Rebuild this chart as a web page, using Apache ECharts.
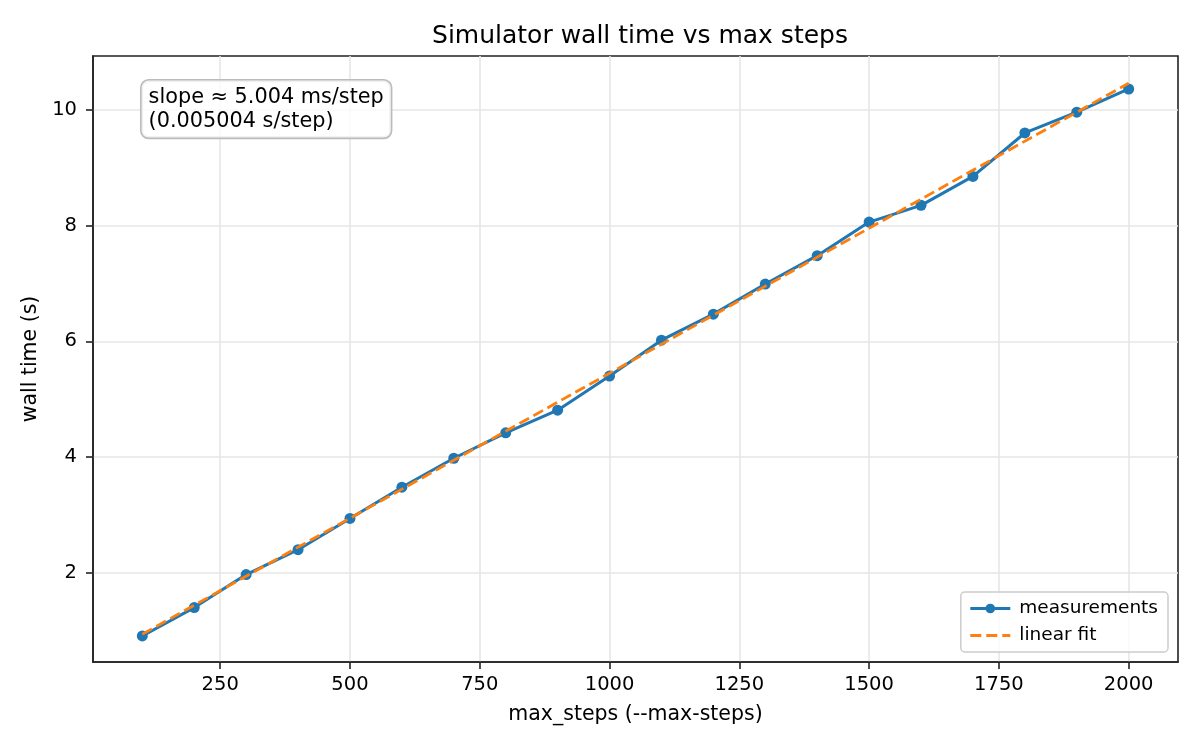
<!DOCTYPE html>
<html>
<head>
<meta charset="utf-8">
<title>Simulator wall time vs max steps</title>
<script src="https://cdn.jsdelivr.net/npm/echarts@6/dist/echarts.min.js"></script>
<style>
  html, body { margin: 0; padding: 0; background: #fff; }
  #chart { width: 1200px; height: 750px; }
</style>
</head>
<body>
<div id="chart"></div>
<script>
// measured runs
const maxSteps = [100, 200, 300, 400, 500, 600, 700, 800, 900, 1000,
                  1100, 1200, 1300, 1400, 1500, 1600, 1700, 1800, 1900, 2000];
const wallTime = [0.91, 1.40, 1.97, 2.40, 2.94, 3.48, 3.98, 4.42, 4.81, 5.40,
                  6.02, 6.47, 6.99, 7.48, 8.06, 8.35, 8.85, 9.60, 9.96, 10.36];

// linear fit, read at both ends
const fitSteps = [100, 2000];
const fitTime = [0.94, 10.46];

const xTicks = [250, 500, 750, 1000, 1250, 1500, 1750, 2000];
const yTicks = [2, 4, 6, 8, 10];

const FONT = 'DejaVu Sans';
const chart = echarts.init(document.getElementById('chart'));

const axisCommon = {
  axisLine: { show: true, lineStyle: { color: '#222', width: 1.6 } },
  axisTick: { show: true, length: 7, lineStyle: { color: '#222', width: 1.6 } },
  splitLine: { show: true, lineStyle: { color: '#e6e6e6', width: 1.6 } },
  nameTextStyle: { fontFamily: FONT, fontSize: 20.5, color: '#000' }
};

chart.setOption({
  backgroundColor: '#fff',
  animation: false,
  title: {
    text: 'Simulator wall time vs max steps',
    left: 635, top: 19, textAlign: 'center',
    textStyle: { fontFamily: FONT, fontSize: 25, fontWeight: 'normal', color: '#000' }
  },
  grid: {
    left: 93, right: 22, top: 56, bottom: 88,
    show: true, borderColor: '#222', borderWidth: 1.6, backgroundColor: 'transparent'
  },
  legend: {
    orient: 'vertical',
    right: 32, bottom: 98,
    itemWidth: 40, itemHeight: 12, itemGap: 8,
    padding: [7, 10, 7, 8],
    backgroundColor: 'rgba(255,255,255,0.8)',
    borderColor: '#ccc', borderWidth: 1.5, borderRadius: 4,
    textStyle: { fontFamily: FONT, fontSize: 18.5, color: '#000', padding: [0, 0, 0, 4] },
    lineStyle: { width: 3 },
    data: [
      { name: 'measurements' },
      { name: 'linear fit', itemStyle: { opacity: 0 } }
    ]
  },
  xAxis: Object.assign({}, axisCommon, {
    type: 'value', min: 5, max: 2095,
    name: 'max_steps (--max-steps)', nameLocation: 'middle', nameGap: 42,
    axisTick: Object.assign({}, axisCommon.axisTick, { customValues: xTicks }),
    axisLabel: {
      customValues: xTicks, margin: 13, fontFamily: FONT, fontSize: 19.5, color: '#000',
      formatter: v => String(v)
    }
  }),
  yAxis: Object.assign({}, axisCommon, {
    type: 'value', min: 0.46, max: 10.93,
    name: 'wall time (s)', nameLocation: 'middle', nameGap: 48,
    axisTick: Object.assign({}, axisCommon.axisTick, { customValues: yTicks }),
    axisLabel: {
      customValues: yTicks, margin: 16, fontFamily: FONT, fontSize: 19.5, color: '#000',
      formatter: v => String(v)
    }
  }),
  graphic: [{
    type: 'text',
    left: 140, top: 79,
    z: 100,
    style: {
      text: 'slope ≈ 5.004 ms/step\n(0.005004 s/step)',
      font: '20.8px "DejaVu Sans"',
      fill: '#000',
      lineHeight: 24,
      padding: [5, 7, 4, 7],
      backgroundColor: 'rgba(255,255,255,0.8)',
      borderColor: '#bbb', borderWidth: 1.6, borderRadius: 7
    }
  }],
  series: [
    {
      name: 'measurements',
      type: 'line',
      data: maxSteps.map((s, i) => [s, wallTime[i]]),
      symbol: 'circle', symbolSize: 11, showSymbol: true,
      lineStyle: { color: '#1f77b4', width: 3 },
      itemStyle: { color: '#1f77b4' },
      z: 2
    },
    {
      name: 'linear fit',
      type: 'line',
      data: fitSteps.map((s, i) => [s, fitTime[i]]),
      symbol: 'none',
      lineStyle: { color: '#ff7f0e', width: 2.8, type: [11, 5] },
      itemStyle: { color: '#ff7f0e' },
      z: 3
    }
  ]
});
</script>
</body>
</html>
